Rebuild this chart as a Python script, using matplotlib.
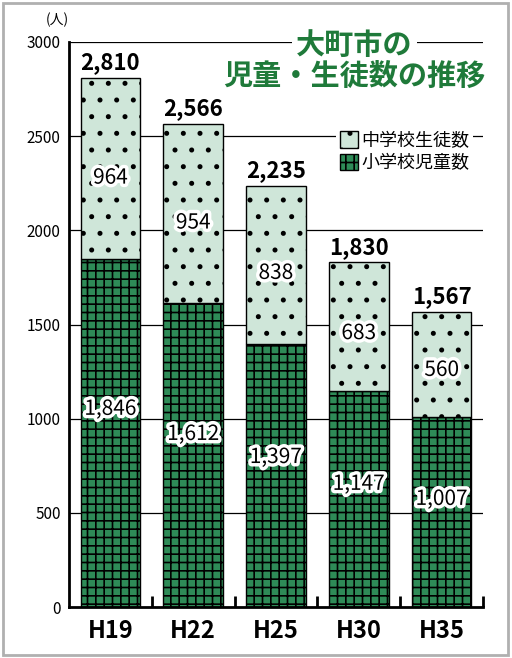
import matplotlib
matplotlib.use("Agg")
import matplotlib.pyplot as plt
import matplotlib.patheffects as pe
from matplotlib.patches import Rectangle, Patch
import numpy as np

plt.rcParams['font.family'] = ['Noto Sans CJK JP', 'DejaVu Sans']
plt.rcParams['hatch.linewidth'] = 1.2

categories = ["H19", "H22", "H25", "H30", "H35"]
elementary = [1846, 1612, 1397, 1147, 1007]   # 小学校児童数
junior = [964, 954, 838, 683, 560]            # 中学校生徒数
totals = [2810, 2566, 2235, 1830, 1567]
yticks = [0, 500, 1000, 1500, 2000, 2500, 3000]

green_dark = "#2e8b57"
green_light = "#cfe6d9"
title_green = "#1f7a3a"

fig = plt.figure(figsize=(5.12, 6.58), dpi=100)
fig.patches.append(Rectangle((3/512, 3/658), 505/512, 652/658, transform=fig.transFigure,
                             fill=False, edgecolor="#b0b0b0", linewidth=2, zorder=0))

ax = fig.add_axes([69/512, 1-607/658, 414/512, 565/658])
x = np.arange(len(categories))
w = 0.72

for yv in yticks[1:]:
    ax.axhline(yv, color="black", linewidth=0.9, zorder=1)

ax.bar(x, elementary, width=w, color=green_dark, edgecolor="black", hatch="++",
       linewidth=1.0, zorder=2)
ax.bar(x, junior, width=w, bottom=elementary, color=green_light, edgecolor="black",
       hatch=".", linewidth=1.0, zorder=2)

stroke = [pe.withStroke(linewidth=5, foreground="white")]
for i in range(len(categories)):
    ax.text(x[i], elementary[i] * 0.57, f"{elementary[i]:,}", ha="center", va="center",
            fontsize=15, color="black", path_effects=stroke, zorder=4)
    ax.text(x[i], elementary[i] + junior[i] * 0.45, f"{junior[i]:,}", ha="center", va="center",
            fontsize=15, color="black", path_effects=stroke, zorder=4)
    ax.text(x[i], totals[i] + 20, f"{totals[i]:,}", ha="center", va="bottom",
            fontsize=16, fontweight="bold", color="black", zorder=4)

ax.set_xlim(-0.5, len(categories) - 0.5)
ax.set_ylim(0, 3000)
ax.set_yticks(yticks)
ax.set_yticklabels([str(v) for v in yticks], fontsize=11)
ax.tick_params(axis="y", length=0, pad=6)
ax.set_xticks(x)
ax.set_xticklabels(categories, fontsize=17, fontweight="bold")
ax.tick_params(axis="x", which="major", length=0, pad=9)
ax.set_xticks(np.arange(0.5, len(categories), 1), minor=True)
ax.tick_params(axis="x", which="minor", direction="in", length=8, width=2)
for s in ["top", "right"]:
    ax.spines[s].set_visible(False)
ax.spines["left"].set_linewidth(2)
ax.spines["bottom"].set_linewidth(2)
ax.spines["left"].set_zorder(5)
ax.spines["bottom"].set_zorder(5)

ax.text(-0.055, 1.027, "(人)", transform=ax.transAxes, ha="left", va="bottom", fontsize=10)

# Title
ax.text(0.69, 0.995, "大町市の", transform=ax.transAxes, ha="center", va="center",
        fontsize=21, fontweight="bold", color=title_green, zorder=6,
        bbox=dict(facecolor="white", edgecolor="none", pad=3))
ax.text(0.69, 0.94, "児童・生徒数の推移", transform=ax.transAxes, ha="center", va="center",
        fontsize=21, fontweight="bold", color=title_green, zorder=6)

handles = [Patch(facecolor=green_light, edgecolor="black", hatch="."),
           Patch(facecolor=green_dark, edgecolor="black", hatch="++")]
leg = ax.legend(handles, ["中学校生徒数", "小学校児童数"], loc="upper left",
                bbox_to_anchor=(0.645, 0.848), frameon=True, fontsize=13,
                handlelength=1.0, handleheight=1.0, handletextpad=0.2,
                borderpad=0.2, labelspacing=0.25, borderaxespad=0)
leg.get_frame().set_facecolor("white")
leg.get_frame().set_edgecolor("none")
leg.get_frame().set_alpha(1)
leg.set_zorder(6)

fig.savefig("out.png", dpi=100)
